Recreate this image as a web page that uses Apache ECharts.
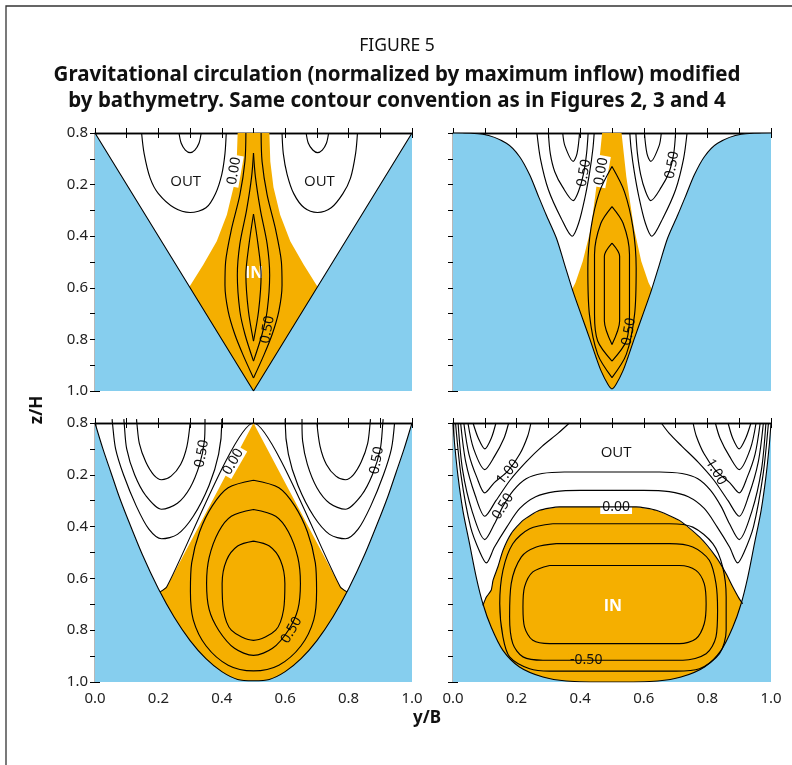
<!DOCTYPE html>
<html><head><meta charset="utf-8">
<script src="https://cdn.jsdelivr.net/npm/echarts@6/dist/echarts.min.js"></script>
<style>html,body{margin:0;padding:0;background:#fff}#c{width:792px;height:765px}</style>
</head><body><div id="c"></div>
<script>
// ---------- tick labels ----------
const yTickLabels = ["0.8","0.2","0.4","0.6","0.8","1.0"];
const xTickLabels = ["0.0","0.2","0.4","0.6","0.8","1.0"];

// ---------- panel a ----------
const aBathy = [[0,0],[0.5,1],[1,0]];
const aInflow = [[0.45,0],[0.447,0.11],[0.437,0.21],[0.416,0.317],[0.384,0.42],[0.342,0.51],[0.298,0.596],[0.298,1],[0.702,1],[0.702,0.596],[0.658,0.51],[0.616,0.42],[0.584,0.317],[0.563,0.21],[0.553,0.11],[0.55,0]];
const aContours = [
  [[0.147,0],[0.155,0.08],[0.174,0.175],[0.2,0.235],[0.25,0.29],[0.3,0.308],[0.35,0.29],[0.38,0.235],[0.4,0.16],[0.41,0.08],[0.414,0]],
  [[0.265,0],[0.272,0.04],[0.285,0.066],[0.3,0.076],[0.315,0.066],[0.328,0.04],[0.335,0]],
  [[0.59,0],[0.594,0.08],[0.606,0.16],[0.627,0.235],[0.66,0.29],[0.702,0.308],[0.745,0.29],[0.782,0.235],[0.806,0.175],[0.822,0.08],[0.828,0]],
  [[0.666,0],[0.673,0.04],[0.687,0.066],[0.702,0.076],[0.717,0.066],[0.73,0.04],[0.737,0]],
  [[0.476,0],[0.473,0.11],[0.457,0.24],[0.431,0.37],[0.412,0.5],[0.41,0.59],[0.42,0.69],[0.441,0.78],[0.467,0.86],[0.5,0.95]],
  [[0.524,0],[0.527,0.11],[0.543,0.24],[0.569,0.37],[0.588,0.5],[0.59,0.59],[0.58,0.69],[0.559,0.78],[0.533,0.86],[0.5,0.95]],
  [[0.5,0.078],[0.494,0.17],[0.478,0.30],[0.457,0.43],[0.449,0.55],[0.457,0.69],[0.473,0.78],[0.5,0.884]],
  [[0.5,0.078],[0.506,0.17],[0.522,0.30],[0.543,0.43],[0.551,0.55],[0.543,0.69],[0.527,0.78],[0.5,0.884]],
  [[0.5,0.314],[0.486,0.43],[0.476,0.55],[0.484,0.69],[0.5,0.807]],
  [[0.5,0.314],[0.514,0.43],[0.524,0.55],[0.516,0.69],[0.5,0.807]]
];
const aContourLabels = [["0.00",0.439,0.147,80,"out"],["0.50",0.544,0.762,80,"in"]];
const aRegionLabels = [["OUT",0.286,0.188],["OUT",0.708,0.188],["IN",0.502,0.545]];
const aTag = ["a)",0.089,0.88];

// ---------- panel c ----------
const cBathy = [[0,0],[0.094,0.005],[0.168,0.04],[0.209,0.091],[0.241,0.162],[0.267,0.24],[0.293,0.317],[0.325,0.407],[0.351,0.51],[0.377,0.613],[0.403,0.704],[0.429,0.794],[0.45,0.87],[0.466,0.923],[0.487,0.974],[0.5,0.992],[0.513,0.974],[0.534,0.923],[0.55,0.87],[0.571,0.794],[0.597,0.704],[0.623,0.613],[0.649,0.51],[0.675,0.407],[0.707,0.317],[0.733,0.24],[0.759,0.162],[0.791,0.091],[0.832,0.04],[0.906,0.005],[1,0]];
const cInflow = [[0.469,0],[0.455,0.17],[0.434,0.368],[0.408,0.497],[0.385,0.58],[0.368,0.622],[0.368,1],[0.632,1],[0.632,0.622],[0.615,0.58],[0.592,0.497],[0.569,0.368],[0.545,0.17],[0.53,0]];
const cContours = [
  [[0.264,0],[0.275,0.1],[0.3,0.22],[0.34,0.33],[0.375,0.40],[0.395,0.35],[0.415,0.25],[0.43,0.15],[0.44,0.06],[0.444,0]],
  [[0.3,0],[0.306,0.08],[0.32,0.15],[0.345,0.21],[0.378,0.262],[0.395,0.225],[0.41,0.16],[0.42,0.08],[0.425,0]],
  [[0.345,0],[0.352,0.05],[0.378,0.11],[0.39,0.08],[0.398,0]],
  [[0.556,0],[0.56,0.06],[0.57,0.15],[0.585,0.25],[0.605,0.35],[0.625,0.40],[0.66,0.33],[0.7,0.22],[0.725,0.1],[0.736,0]],
  [[0.575,0],[0.58,0.08],[0.59,0.16],[0.605,0.225],[0.622,0.262],[0.655,0.21],[0.68,0.15],[0.694,0.08],[0.7,0]],
  [[0.602,0],[0.61,0.08],[0.622,0.11],[0.648,0.05],[0.655,0]],
  [[0.5,0.13],[0.461,0.227],[0.434,0.368],[0.424,0.523],[0.429,0.703],[0.455,0.858],[0.5,0.948]],
  [[0.5,0.13],[0.539,0.227],[0.566,0.368],[0.576,0.523],[0.571,0.703],[0.545,0.858],[0.5,0.948]],
  [[0.5,0.285],[0.465,0.35],[0.445,0.471],[0.445,0.703],[0.455,0.806],[0.5,0.884]],
  [[0.5,0.285],[0.535,0.35],[0.555,0.471],[0.555,0.703],[0.545,0.806],[0.5,0.884]],
  [[0.5,0.427],[0.476,0.478],[0.476,0.729],[0.5,0.82]],
  [[0.5,0.427],[0.524,0.478],[0.524,0.729],[0.5,0.82]]
];
const cContourLabels = [["0.50",0.412,0.155,80,"out"],["0.00",0.466,0.149,80,"out"],["0.50",0.689,0.124,80,"out"],["0.50",0.553,0.77,80,"in"]];
const cRegionLabels = [];
const cTag = ["c)",0.094,0.884];

// ---------- panel b ----------
const bBathy = [[0,0],[0.025,0.1],[0.05,0.19],[0.075,0.28],[0.1,0.36],[0.15,0.51],[0.2,0.64],[0.25,0.75],[0.3,0.84],[0.35,0.91],[0.4,0.96],[0.45,0.99],[0.5,0.995],[0.55,0.99],[0.6,0.96],[0.65,0.91],[0.7,0.84],[0.75,0.75],[0.8,0.64],[0.85,0.51],[0.9,0.36],[0.925,0.28],[0.95,0.19],[0.975,0.1],[1,0]];
const bInflow = [[0.5,0],[0.226,0.633],[0.205,0.652],[0.205,1],[0.795,1],[0.795,0.652],[0.774,0.633]];
const bZero = [[0.205,0.652],[0.226,0.633],[0.5,0],[0.774,0.633],[0.795,0.652]];
const bContours = [
  [[0.131,-0.015],[0.132,0],[0.14,0.08],[0.16,0.15],[0.185,0.2],[0.21,0.219],[0.24,0.205],[0.27,0.16],[0.29,0.09],[0.3,0]],
  [[0.091,-0.015],[0.092,0],[0.1,0.1],[0.125,0.2],[0.16,0.28],[0.21,0.333],[0.26,0.31],[0.3,0.25],[0.33,0.16],[0.345,0.07],[0.347,0],[0.347,-0.015]],
  [[0.054,-0.015],[0.055,0],[0.065,0.1],[0.09,0.2],[0.13,0.32],[0.17,0.41],[0.21,0.447],[0.26,0.43],[0.31,0.36],[0.36,0.24],[0.39,0.12],[0.4,0],[0.4,-0.015]],
  [[0.7,0],[0.71,0.09],[0.73,0.16],[0.76,0.205],[0.79,0.219],[0.815,0.2],[0.84,0.15],[0.86,0.08],[0.868,0],[0.869,-0.015]],
  [[0.653,-0.015],[0.653,0],[0.655,0.07],[0.67,0.16],[0.7,0.25],[0.74,0.31],[0.79,0.333],[0.84,0.28],[0.875,0.2],[0.9,0.1],[0.908,0],[0.909,-0.015]],
  [[0.6,-0.015],[0.6,0],[0.61,0.12],[0.64,0.24],[0.69,0.36],[0.74,0.43],[0.79,0.447],[0.83,0.41],[0.87,0.32],[0.91,0.2],[0.935,0.1],[0.945,0]],
  [[0.5,0.456],[0.55,0.475],[0.585,0.53],[0.599,0.62],[0.595,0.72],[0.57,0.8],[0.5,0.839],[0.43,0.8],[0.405,0.72],[0.401,0.62],[0.415,0.53],[0.45,0.475],[0.5,0.456]],
  [[0.5,0.334],[0.43,0.36],[0.39,0.42],[0.36,0.52],[0.352,0.62],[0.36,0.72],[0.39,0.8],[0.44,0.87],[0.5,0.897],[0.56,0.87],[0.61,0.8],[0.64,0.72],[0.648,0.62],[0.64,0.52],[0.61,0.42],[0.57,0.36],[0.5,0.334]],
  [[0.5,0.221],[0.42,0.25],[0.37,0.32],[0.33,0.42],[0.305,0.54],[0.301,0.65],[0.31,0.76],[0.35,0.86],[0.42,0.935],[0.5,0.957],[0.58,0.935],[0.65,0.86],[0.69,0.76],[0.699,0.65],[0.695,0.54],[0.67,0.42],[0.63,0.32],[0.58,0.25],[0.5,0.221]]
];
const bContourLabels = [["0.50",0.337,0.118,80,"out"],["0.00",0.436,0.15,60,"out"],["0.50",0.889,0.144,80,"out"],["0.50",0.62,0.80,60,"in"]];
const bRegionLabels = [];
const bTag = ["b)",0.09,0.878];

// ---------- panel d ----------
const dBathy = [[0,0],[0.005,0.08],[0.016,0.208],[0.031,0.337],[0.052,0.466],[0.073,0.595],[0.094,0.698],[0.12,0.788],[0.157,0.878],[0.209,0.942],[0.283,0.981],[0.356,0.996],[0.5,1.0],[0.644,0.996],[0.717,0.981],[0.791,0.942],[0.843,0.878],[0.88,0.788],[0.906,0.698],[0.927,0.595],[0.948,0.466],[0.969,0.337],[0.984,0.208],[0.995,0.08],[1,0]];
const dInflow = [[0.094,0.704],[0.105,0.672],[0.12,0.646],[0.126,0.607],[0.141,0.556],[0.157,0.492],[0.183,0.427],[0.22,0.376],[0.272,0.337],[0.335,0.324],[0.576,0.324],[0.639,0.337],[0.712,0.376],[0.775,0.44],[0.827,0.517],[0.859,0.582],[0.88,0.633],[0.9,0.678],[0.911,0.698],[0.911,1],[0.094,1]];
const dZero = [[0.094,0.704],[0.105,0.672],[0.12,0.646],[0.126,0.607],[0.141,0.556],[0.157,0.492],[0.183,0.427],[0.22,0.376],[0.272,0.337],[0.335,0.324],[0.576,0.324],[0.639,0.337],[0.712,0.376],[0.775,0.44],[0.827,0.517],[0.859,0.582],[0.88,0.633],[0.9,0.678],[0.911,0.698]];
const dContours = [
  [[0.063,0],[0.08,0.06],[0.1,0.1],[0.12,0.06],[0.135,0]],
  [[0.047,0],[0.065,0.1],[0.1,0.18],[0.13,0.13],[0.16,0.06],[0.175,0]],
  [[0.034,0],[0.05,0.12],[0.075,0.21],[0.1,0.27],[0.13,0.23],[0.173,0.185],[0.21,0.12],[0.235,0.05],[0.245,0]],
  [[0.024,0],[0.04,0.15],[0.07,0.28],[0.1,0.36],[0.135,0.3],[0.18,0.22],[0.23,0.15],[0.28,0.09],[0.33,0.04],[0.366,0]],
  [[0.865,0],[0.88,0.06],[0.9,0.1],[0.92,0.06],[0.937,0]],
  [[0.825,0],[0.84,0.06],[0.87,0.13],[0.9,0.18],[0.935,0.1],[0.953,0]],
  [[0.755,0],[0.765,0.05],[0.79,0.12],[0.827,0.185],[0.87,0.23],[0.9,0.27],[0.925,0.21],[0.95,0.12],[0.966,0]],
  [[0.655,0],[0.68,0.04],[0.72,0.09],[0.77,0.15],[0.82,0.22],[0.865,0.3],[0.9,0.36],[0.93,0.28],[0.96,0.15],[0.976,0]],
  [[0.016,0],[0.03,0.18],[0.06,0.34],[0.1,0.45],[0.13,0.39],[0.157,0.322],[0.19,0.26],[0.23,0.215],[0.28,0.195],[0.35,0.189],[0.5,0.189],[0.65,0.189],[0.72,0.195],[0.77,0.215],[0.81,0.26],[0.843,0.322],[0.87,0.39],[0.9,0.45],[0.94,0.34],[0.97,0.18],[0.984,0]],
  [[0.008,0],[0.025,0.2],[0.055,0.4],[0.085,0.5],[0.105,0.54],[0.13,0.48],[0.17,0.4],[0.21,0.33],[0.26,0.285],[0.32,0.265],[0.4,0.26],[0.6,0.26],[0.68,0.265],[0.74,0.285],[0.79,0.33],[0.83,0.4],[0.87,0.48],[0.895,0.54],[0.915,0.5],[0.945,0.4],[0.975,0.2],[0.992,0]],
  [[0.304,0.55],[0.712,0.55],[0.764,0.569],[0.79,0.62],[0.796,0.698],[0.79,0.775],[0.764,0.833],[0.712,0.852],[0.304,0.852],[0.251,0.839],[0.225,0.788],[0.22,0.71],[0.225,0.633],[0.251,0.575],[0.304,0.55]],
  [[0.325,0.466],[0.681,0.466],[0.754,0.479],[0.806,0.53],[0.827,0.62],[0.832,0.723],[0.827,0.826],[0.796,0.891],[0.723,0.916],[0.283,0.916],[0.22,0.903],[0.188,0.852],[0.178,0.749],[0.183,0.62],[0.215,0.517],[0.262,0.479],[0.325,0.466]],
  [[0.314,0.389],[0.681,0.389],[0.754,0.402],[0.817,0.466],[0.848,0.556],[0.859,0.672],[0.859,0.8],[0.838,0.891],[0.775,0.949],[0.702,0.958],[0.304,0.958],[0.241,0.949],[0.178,0.903],[0.157,0.826],[0.147,0.698],[0.157,0.569],[0.188,0.466],[0.241,0.408],[0.314,0.389]]
];
const dContourLabels = [["1.00",0.173,0.189,50,"out"],["0.50",0.157,0.322,58,"out"],["1.00",0.827,0.189,-60,"out"],["0.00",0.513,0.324,0,"out"],["-0.50",0.419,0.916,0,"in"]];
const dRegionLabels = [["OUT",0.513,0.116],["IN",0.503,0.71]];
const dTag = ["d)",0.094,0.878];

// ---------- drawing ----------
const FONT = "Noto Sans";
const BLUE = '#86CEEE';
const ORANGE = '#F5AF00';
const INK = '#111';

const panels = [
  {grid:{left:95, top:133, width:317, height:258}, bathy:aBathy, bathySmooth:false, inflow:aInflow, zero:null, contours:aContours, cLabels:aContourLabels, rLabels:aRegionLabels, tag:aTag, showX:false, showY:true, clip:true},
  {grid:{left:453, top:133, width:318, height:258}, bathy:cBathy, bathySmooth:0.3, inflow:cInflow, zero:null, contours:cContours, cLabels:cContourLabels, rLabels:cRegionLabels, tag:cTag, showX:false, showY:false, clip:true},
  {grid:{left:95, top:423, width:317, height:259}, bathy:bBathy, bathySmooth:0.3, inflow:bInflow, zero:bZero, contours:bContours, cLabels:bContourLabels, rLabels:bRegionLabels, tag:bTag, showX:true, showY:true, clip:false},
  {grid:{left:453, top:423, width:318, height:259}, bathy:dBathy, bathySmooth:0.3, inflow:dInflow, zero:dZero, contours:dContours, cLabels:dContourLabels, rLabels:dRegionLabels, tag:dTag, showX:true, showY:false, clip:true}
];

const grids = [], xAxes = [], yAxes = [], series = [];
const axisLine = {show:true, lineStyle:{color:'#000', width:1.3}};
const axisTick = {show:true, inside:true, length:5, lineStyle:{color:'#000', width:1}};
const labelStyle = {fontSize:15, color:'#222', fontFamily:FONT};

panels.forEach((p, i) => {
  grids.push(Object.assign({containLabel:false}, p.grid));
  const xa = 2*i, ya = 2*i;
  xAxes.push({gridIndex:i, type:'value', min:0, max:1, interval:0.1, position:'bottom', axisLine, axisTick, splitLine:{show:false},
    axisLabel:Object.assign({show:p.showX, margin:9, formatter:(v)=>{const k=Math.round(v*10); return k%2?'':xTickLabels[k/2];}}, labelStyle)});
  xAxes.push({gridIndex:i, type:'value', min:0, max:1, interval:0.1, position:'top', axisLine, axisTick, splitLine:{show:false}, axisLabel:{show:false}});
  yAxes.push({gridIndex:i, type:'value', min:0, max:1, interval:0.1, inverse:true, position:'left', axisLine, axisTick, splitLine:{show:false},
    axisLabel:Object.assign({show:p.showY, margin:7, formatter:(v)=>{const k=Math.round(v*10); return k%2?'':yTickLabels[k/2];}}, labelStyle)});
  yAxes.push({gridIndex:i, type:'value', min:0, max:1, interval:0.1, inverse:true, position:'right', axisLine, axisTick, splitLine:{show:false}, axisLabel:{show:false}});

  series.push({type:'custom', xAxisIndex:xa, yAxisIndex:ya, silent:true, data:[[0.5,0.5]],
    renderItem:(params, api) => ({type:'polygon', shape:{points:p.inflow.map(q => api.coord(q))}, style:{fill:ORANGE}})});
  series.push({type:'line', xAxisIndex:xa, yAxisIndex:ya, data:p.bathy, symbol:'none', smooth:p.bathySmooth, silent:true,
    lineStyle:{color:'#000', width:1.1}, areaStyle:{color:BLUE, opacity:1, origin:'end'}});
  if (p.zero) series.push({type:'line', xAxisIndex:xa, yAxisIndex:ya, data:p.zero, symbol:'none', smooth:0.2, silent:true, lineStyle:{color:'#000', width:1.1}});
  p.contours.forEach(c => series.push({type:'line', xAxisIndex:xa, yAxisIndex:ya, data:c, symbol:'none', smooth:0.3, silent:true, clip:p.clip, lineStyle:{color:'#000', width:1.15}}));
  series.push({type:'custom', xAxisIndex:xa, yAxisIndex:ya, silent:true, data:p.cLabels.map(l => [l[1], l[2]]),
    renderItem:(params, api) => {
      const l = p.cLabels[params.dataIndex];
      const pt = api.coord([l[1], l[2]]);
      return {type:'text', x:pt[0], y:pt[1], rotation:l[3]*Math.PI/180,
        style:{text:l[0], fill:INK, fontSize:14, fontFamily:FONT, fontWeight:'normal', align:'center', verticalAlign:'middle', backgroundColor:l[4]==='in'?ORANGE:'#fff', padding:[0,2]}};
    }});
  const texts = p.rLabels.concat([p.tag]);
  series.push({type:'custom', xAxisIndex:xa, yAxisIndex:ya, silent:true, data:texts.map(l => [l[1], l[2]]),
    renderItem:(params, api) => {
      const l = texts[params.dataIndex];
      const pt = api.coord([l[1], l[2]]);
      const isIn = l[0] === 'IN';
      return {type:'text', x:pt[0], y:pt[1],
        style:{text:l[0], fill:isIn?'#fff':INK, font:(isIn?'bold 16px ':'normal 15px ')+'"Open Sans", "Noto Sans", sans-serif', align:'center', verticalAlign:'middle'}};
    }});
});

const chart = echarts.init(document.getElementById('c'), null, {renderer:'canvas'});
chart.setOption({
  backgroundColor:'#fff',
  animation:false,
  grid:grids, xAxis:xAxes, yAxis:yAxes, series,
  graphic:[
    {type:'rect', shape:{x:6, y:6, width:820, height:800}, style:{fill:null, stroke:'#333', lineWidth:1.3}, silent:true},
    {type:'text', x:397, y:46, style:{text:'FIGURE 5', fontSize:17.5, fontFamily:FONT, fill:INK, align:'center', verticalAlign:'middle'}},
    {type:'text', x:397, y:75, style:{text:'Gravitational circulation (normalized by maximum inflow) modified', fontSize:20.5, fontWeight:'bold', fontFamily:FONT, fill:INK, align:'center', verticalAlign:'middle'}},
    {type:'text', x:397, y:101, style:{text:'by bathymetry. Same contour convention as in Figures 2, 3 and 4', fontSize:20.5, fontWeight:'bold', fontFamily:FONT, fill:INK, align:'center', verticalAlign:'middle'}},
    {type:'text', x:37, y:410, rotation:Math.PI/2, style:{text:'z/H', fontSize:17, fontWeight:'bold', fontFamily:FONT, fill:INK, align:'center', verticalAlign:'middle'}},
    {type:'text', x:427, y:718, style:{text:'y/B', fontSize:17, fontWeight:'bold', fontFamily:FONT, fill:INK, align:'center', verticalAlign:'middle'}}
  ]
});
</script></body></html>
